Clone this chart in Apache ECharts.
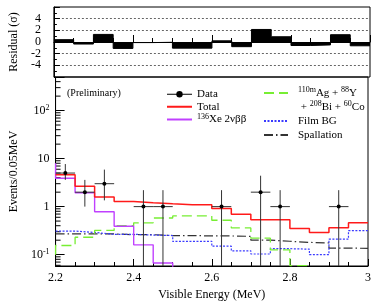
<!DOCTYPE html>
<html><head><meta charset="utf-8">
<script src="https://cdn.jsdelivr.net/npm/echarts@6/dist/echarts.min.js"></script>
<style>html,body{margin:0;padding:0;background:#fff}#c{width:374px;height:306px}</style>
</head><body><div id="c"></div>
<script>
// ---- data ----
const binEdges = [2.20,2.25,2.30,2.35,2.40,2.45,2.50,2.55,2.60,2.65,2.70,2.75,2.80,2.85,2.90,2.95];
const binWidth = 0.05;
const dataCounts  = [5, 2, 3, 0, 1, 1, 0, 0, 1, 0, 2, 1, 0, 0, 1, 0];
const dataErrLow  = [3.6, 1.0, 1.35, 0, 0, 0, 0, 0, 0, 0, 0, 0, 0, 0, 0, 0];
const dataErrHigh = [7.7, 3.6, 5.9, 0, 2.2, 2.2, 0, 0, 2.2, 0, 4.4, 2.2, 0, 0, 2.2, 0];
const totalFit   = [4.6, 2.65, 1.58, 1.28, 1.21, 1.15, 1.1, 1.1, 0.91, 0.69, 0.53, 0.53, 0.35, 0.29, 0.365, 0.46];
const xe2nbb     = [3.9, 1.94, 0.78, 0.39, 0.16, 0.067, null, null, null, null, null, null, null, null, null, null];
const xe2nbbLead = 8;
const agYBiCo    = [0.155, 0.23, 0.32, 0.40, 0.46, 0.58, 0.64, 0.64, 0.52, 0.36, 0.22, 0.126, 0.059, null, null, null];
const agYBiCoLead = 0.1;
const filmBG     = [0.31, 0.29, 0.265, 0.265, 0.256, 0.25, 0.188, 0.19, 0.15, 0.12, 0.103, 0.133, 0.13, 0.1, 0.21, 0.316];
const spallation = [0.27, 0.27, 0.27, 0.26, 0.26, 0.25, 0.25, 0.245, 0.245, 0.24, 0.2, 0.19, 0.18, 0.175, 0.137, 0.135];
const residuals  = [0.4, -0.35, 1.3, -1.1, -0.1, -0.05, -1.05, -1.05, 0.2, -0.8, 2.15, 0.9, -0.6, -0.5, 1.25, -0.65];
const logMinorTicks = [0.06,0.07,0.08,0.09,0.2,0.3,0.4,0.5,0.6,0.7,0.8,0.9,2,3,4,5,6,7,8,9,20,30,40,50,60,70,80,90,200,300,400];
const xMin = 2.2, xMax = 3.0, yLogMin = 0.058, yLogMax = 500, resMin = -6, resMax = 6;
const names = {
  data: 'Data', total: 'Total', xe: '136Xe 2νββ',
  bg: '110mAg + 88Y + 208Bi + 60Co', film: 'Film BG', spall: 'Spallation'
};

// ---- helpers ----
const FONT = 'Liberation Serif';
const below = yLogMin / 10;
function stepData(vals, lead) {
  const pts = [];
  if (lead != null) pts.push([binEdges[0], lead]);
  vals.forEach((v, i) => pts.push([binEdges[i], v == null ? below : v]));
  const last = vals[vals.length - 1];
  pts.push([+(binEdges[binEdges.length - 1] + binWidth).toFixed(3), last == null ? below : last]);
  return pts;
}
const dataPts = [], errRows = [];
dataCounts.forEach((c, i) => {
  if (c > 0) {
    const xc = +(binEdges[i] + binWidth / 2).toFixed(4);
    dataPts.push([xc, c]);
    errRows.push([xc, c, dataErrLow[i], dataErrHigh[i]]);
  }
});
const resStep = residuals.map((v, i) => [binEdges[i], v]);
resStep.push([+(binEdges[binEdges.length - 1] + binWidth).toFixed(3), residuals[residuals.length - 1]]);

const supRich = { sup: { fontSize: 8, lineHeight: 13, verticalAlign: 'top', fontFamily: FONT, color: '#000' } };

const chart = echarts.init(document.getElementById('c'), null, { renderer: 'canvas' });
const xAxisCommon = {
  type: 'value', min: xMin, max: xMax, interval: 0.2,
  axisLine: { lineStyle: { color: '#000', width: 1 } },
  axisTick: { inside: true, length: 7, lineStyle: { color: '#000' } },
  minorTick: { show: true, splitNumber: 4, length: 4, lineStyle: { color: '#000' } },
  splitLine: { show: false }
};
chart.setOption({
  animation: false,
  textStyle: { fontFamily: FONT },
  title: { text: '(Preliminary)', left: 67, top: 88, padding: 0,
    textStyle: { fontFamily: FONT, fontSize: 10, fontWeight: 'normal', color: '#000' } },
  grid: [
    { left: 45, right: 4, top: 7, height: 70, show: true, borderColor: '#000', borderWidth: 1, backgroundColor: 'transparent' },
    { left: 45, right: 4, top: 77, height: 191, show: true, borderColor: '#000', borderWidth: 1, backgroundColor: 'transparent' }
  ],
  xAxis: [
    Object.assign({}, xAxisCommon, { gridIndex: 0, axisLabel: { show: false } }),
    Object.assign({}, xAxisCommon, { gridIndex: 1,
      axisLabel: { margin: 6, fontSize: 12, color: '#000', fontFamily: FONT,
        formatter: v => String(Math.round(v * 10) / 10) },
      name: 'Visible Energy (MeV)', nameLocation: 'middle', nameGap: 23,
      nameTextStyle: { fontSize: 12, color: '#000', fontFamily: FONT } })
  ],
  yAxis: [
    { type: 'value', gridIndex: 0, min: resMin, max: resMax, interval: 2,
      axisLine: { lineStyle: { color: '#000' } },
      axisTick: { inside: true, length: 6, lineStyle: { color: '#000' } },
      minorTick: { show: true, splitNumber: 2, length: 3, lineStyle: { color: '#000' } },
      splitLine: { show: true, showMinLine: false, showMaxLine: false, lineStyle: { type: [2, 2], color: '#666', width: 1 } },
      axisLabel: { margin: 13, fontSize: 12, color: '#000', fontFamily: FONT,
        formatter: v => (Math.abs(v) >= 6 ? '' : String(v)) },
      name: 'Residual (σ)', nameLocation: 'middle', nameRotate: 90, nameGap: 33,
      nameTextStyle: { fontSize: 12, color: '#000', fontFamily: FONT } },
    { type: 'log', logBase: 10, gridIndex: 1, min: yLogMin, max: yLogMax,
      axisLine: { lineStyle: { color: '#000' } },
      axisTick: { inside: true, length: 9, lineStyle: { color: '#000' } },
      minorTick: { show: false },
      splitLine: { show: false },
      axisLabel: { margin: 6, fontSize: 12, color: '#000', fontFamily: FONT,
        rich: Object.assign({ b: { fontSize: 12, lineHeight: 13, fontFamily: FONT, color: '#000' } }, supRich),
        formatter: v => {
          const e = Math.round(Math.log10(v) * 1000) / 1000;
          if (!Number.isInteger(e)) return '';
          if (e === 0) return '1';
          if (e === 1) return '10';
          return '{b|10}{sup|' + e + '}';
        } },
      name: 'Events/0.05MeV', nameLocation: 'middle', nameRotate: 90, nameGap: 34,
      nameTextStyle: { fontSize: 12, color: '#000', fontFamily: FONT } }
  ],
  legend: [
    { left: 166, top: 88, orient: 'vertical', itemWidth: 25, itemHeight: 8, itemGap: 0, padding: 0,
      selectedMode: false,
      textStyle: { fontFamily: FONT, fontSize: 11, lineHeight: 12.5, color: '#000', rich: supRich },
      formatter: n => n === names.xe ? '{sup|136}Xe 2νββ' : n,
      data: [
        { name: names.data, lineStyle: { width: 1, opacity: 1, color: '#000' } },
        { name: names.total, itemStyle: { opacity: 0 } },
        { name: names.xe, itemStyle: { opacity: 0 } }
      ] },
    { left: 263, top: 72, orient: 'vertical', itemWidth: 24, itemHeight: 8, itemGap: 0, padding: 0,
      selectedMode: false,
      textStyle: { fontFamily: FONT, fontSize: 11, lineHeight: 14, color: '#000', padding: [0, 0, 0, 5], rich: supRich },
      formatter: n => n === names.bg ? '{sup|110m}Ag + {sup|88}Y\n + {sup|208}Bi + {sup|60}Co' : n,
      data: [
        { name: names.bg, itemStyle: { opacity: 0 }, textStyle: { padding: [14, 0, 0, 5] } },
        { name: names.film, itemStyle: { opacity: 0 } },
        { name: names.spall, itemStyle: { opacity: 0 } }
      ] }
  ],
  series: [
    { type: 'line', name: 'residual', xAxisIndex: 0, yAxisIndex: 0, step: 'end', symbol: 'none',
      data: resStep, lineStyle: { color: '#000', width: 1 }, itemStyle: { color: '#000' },
      areaStyle: { color: '#000', opacity: 1, origin: 0 }, z: 3 },
    { type: 'custom', name: 'minorTicks', xAxisIndex: 1, yAxisIndex: 1, silent: true,
      data: logMinorTicks.map(v => [xMin, v]),
      renderItem: (p, api) => {
        const c = api.coord([api.value(0), api.value(1)]);
        return { type: 'line', shape: { x1: c[0], y1: c[1], x2: c[0] + 5, y2: c[1] }, style: { stroke: '#000', lineWidth: 1 } };
      } },
    { type: 'line', name: names.spall, xAxisIndex: 1, yAxisIndex: 1, step: 'end', symbol: 'none',
      data: stepData(spallation), lineStyle: { color: '#333', width: 1.2, type: [9, 3, 1.5, 3] }, itemStyle: { color: '#333' } },
    { type: 'line', name: names.film, xAxisIndex: 1, yAxisIndex: 1, step: 'end', symbol: 'none',
      data: stepData(filmBG), lineStyle: { color: '#3a3aff', width: 1.2, type: [2, 1.5] }, itemStyle: { color: '#3a3aff' } },
    { type: 'line', name: names.bg, xAxisIndex: 1, yAxisIndex: 1, step: 'end', symbol: 'none',
      data: stepData(agYBiCo, agYBiCoLead), lineStyle: { color: '#77ee33', width: 1.3, type: [10, 5] }, itemStyle: { color: '#77ee33' } },
    { type: 'line', name: names.xe, xAxisIndex: 1, yAxisIndex: 1, step: 'end', symbol: 'none',
      data: stepData(xe2nbb, xe2nbbLead), lineStyle: { color: '#c040ff', width: 1.4 }, itemStyle: { color: '#c040ff' } },
    { type: 'line', name: names.total, xAxisIndex: 1, yAxisIndex: 1, step: 'end', symbol: 'none',
      data: stepData(totalFit), lineStyle: { color: '#ff1a1a', width: 1.5 }, itemStyle: { color: '#ff1a1a' } },
    { type: 'custom', name: 'dataErrors', xAxisIndex: 1, yAxisIndex: 1, silent: true, data: errRows, z: 5,
      renderItem: (p, api) => {
        const x = api.value(0), v = api.value(1);
        const lo = Math.max(api.value(2), yLogMin), hi = Math.min(api.value(3), yLogMax);
        const a = api.coord([x, lo]), b = api.coord([x, hi]);
        const l = api.coord([x - binWidth / 2, v]), r = api.coord([x + binWidth / 2, v]);
        const st = { stroke: '#333', lineWidth: 1 };
        return { type: 'group', children: [
          { type: 'line', shape: { x1: a[0], y1: a[1], x2: b[0], y2: b[1] }, style: st },
          { type: 'line', shape: { x1: l[0], y1: l[1], x2: r[0], y2: r[1] }, style: st }
        ] };
      } },
    { type: 'line', name: names.data, xAxisIndex: 1, yAxisIndex: 1, symbol: 'circle', symbolSize: 4,
      data: dataPts, lineStyle: { width: 0, opacity: 0, color: '#000' }, itemStyle: { color: '#000' }, z: 6 }
  ]
});
</script></body></html>
